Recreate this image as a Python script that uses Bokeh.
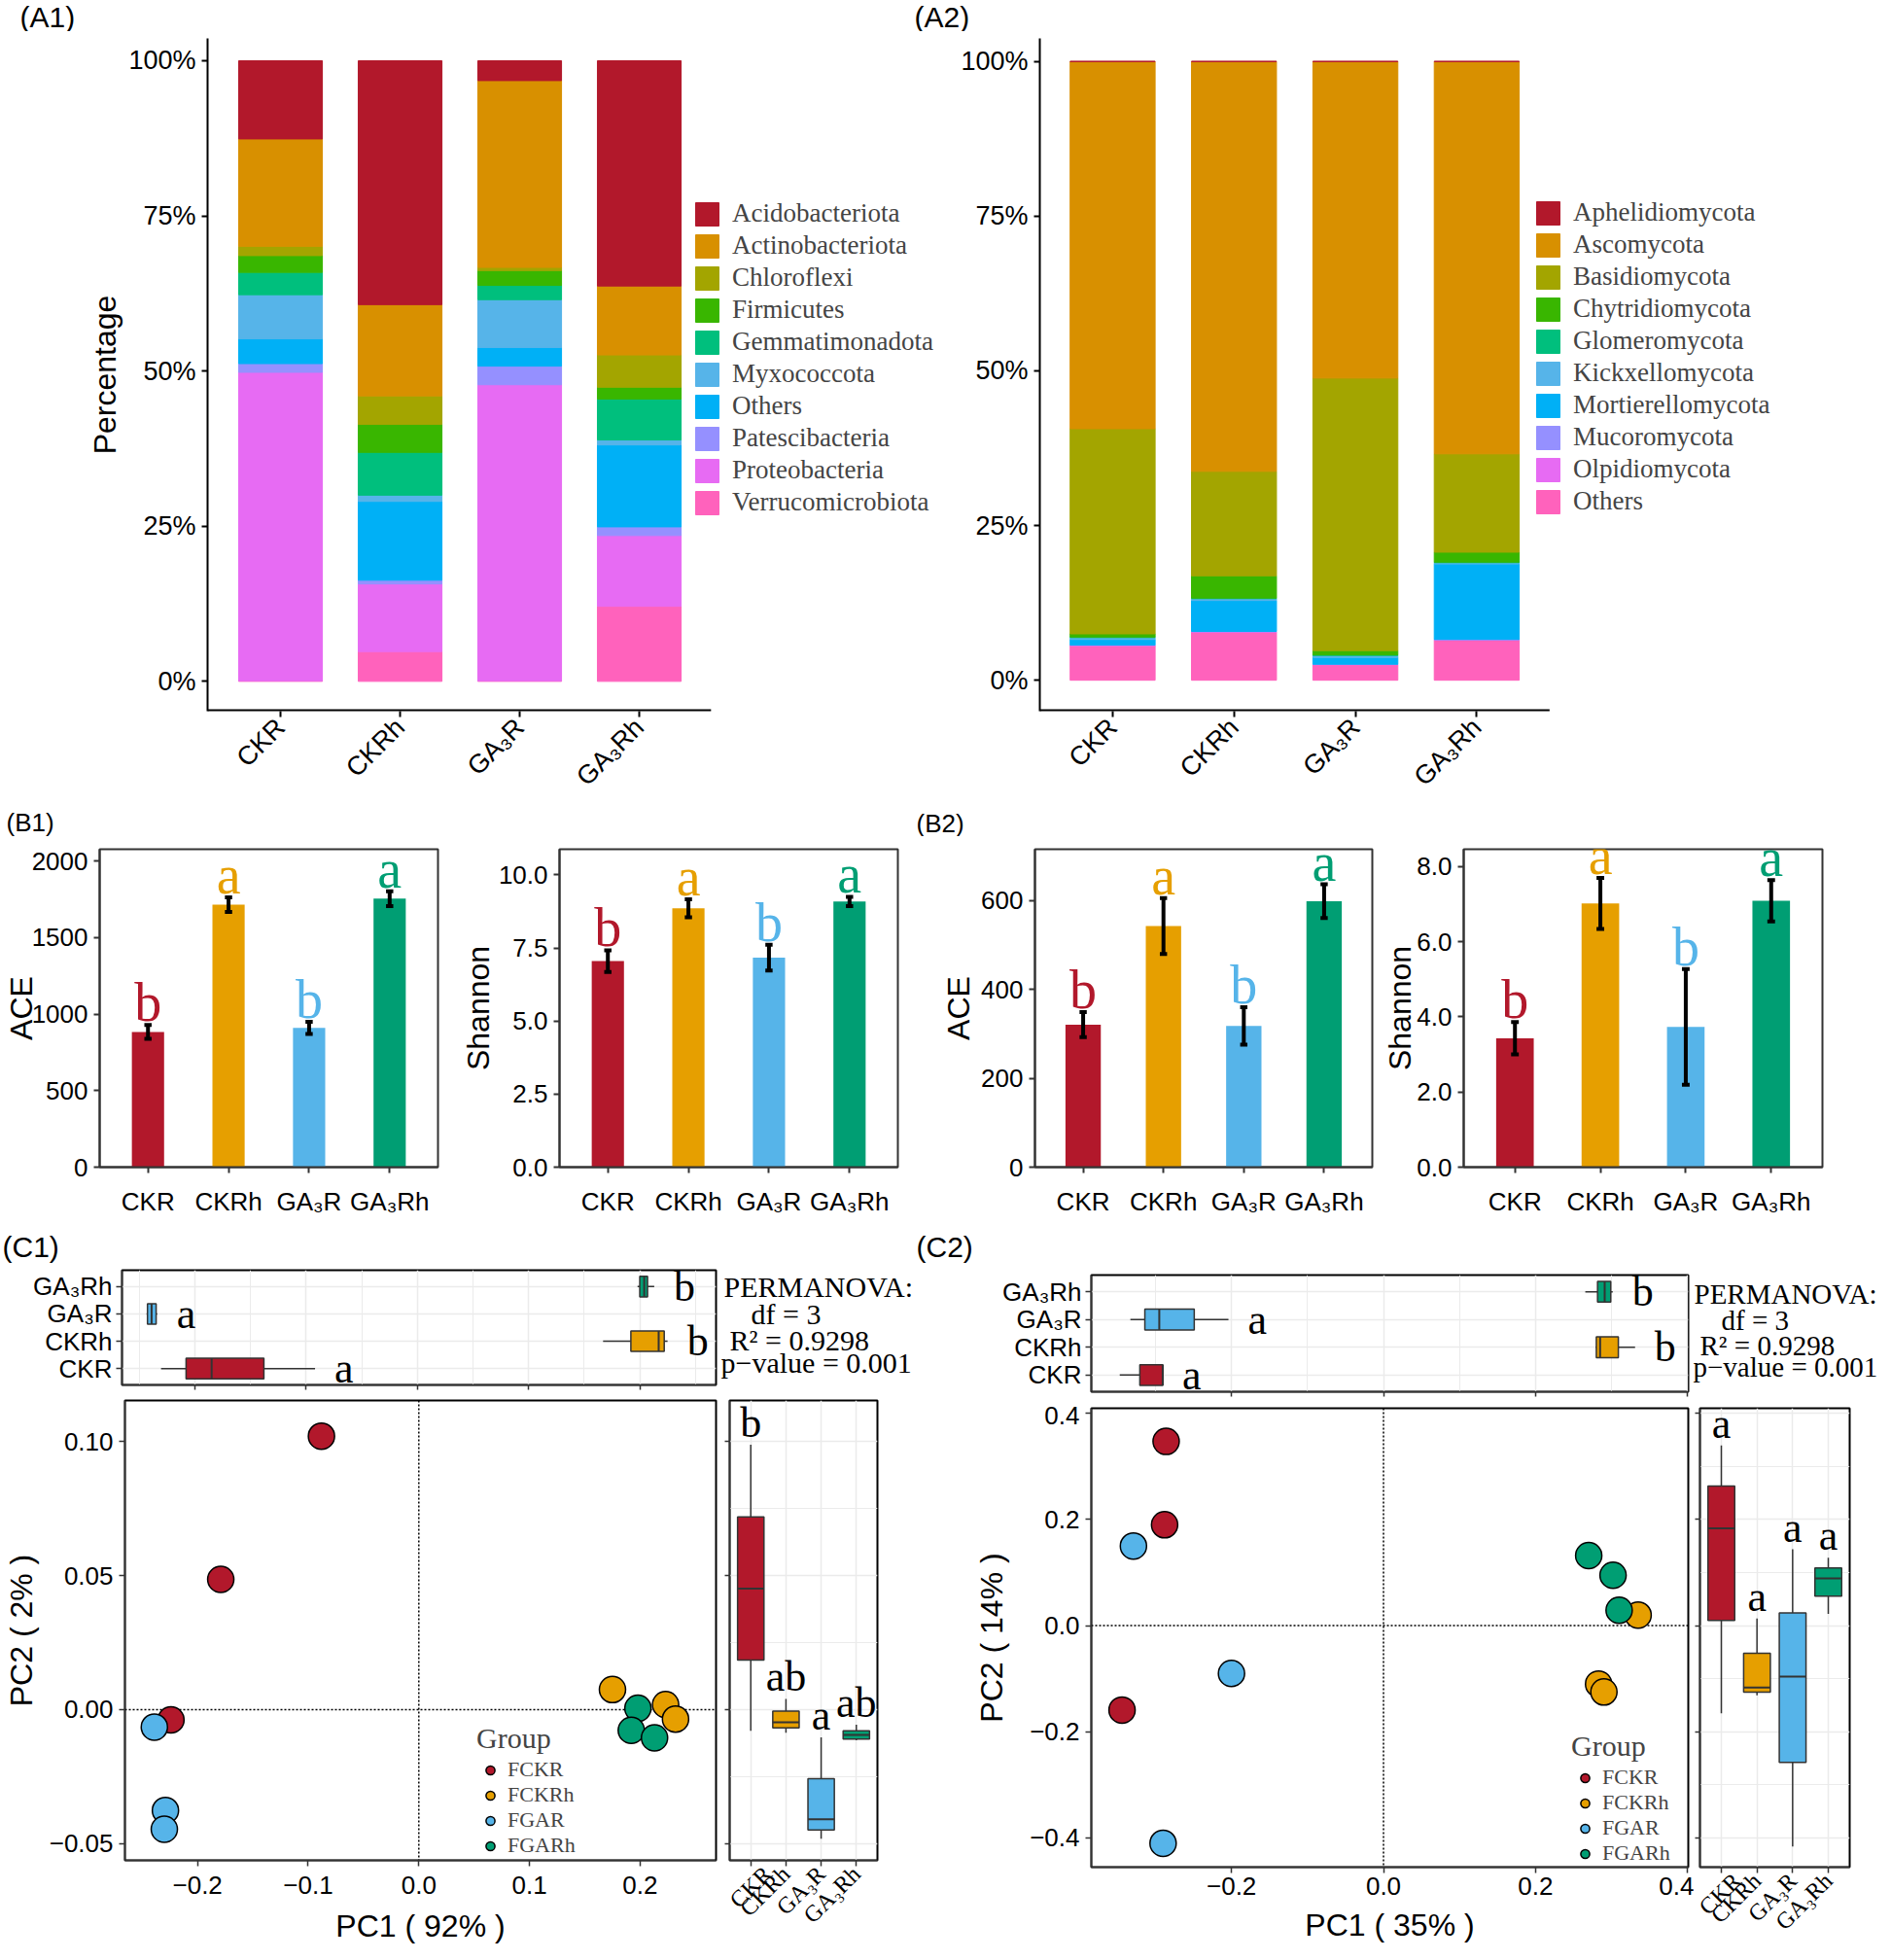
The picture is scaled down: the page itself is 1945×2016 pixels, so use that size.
import math
from bokeh.plotting import figure
from bokeh.models import (Range1d, FixedTicker, Legend, LegendItem, Label, Span,
                          ColumnDataSource)
from bokeh.layouts import row, column
from bokeh.embed import file_html
from bokeh.resources import INLINE
from bokeh.core.properties import value

SANS = "Liberation Sans"
SERIF = "Liberation Serif"

# ------------------------------------------------------------------ data
groups = ["CKR", "CKRh", "GA₃R", "GA₃Rh"]
group_colors = ["#B2182B", "#E69F00", "#56B4E9", "#009E73"]

# (A1) bacterial phyla, relative abundance (%) - legend order
bact_phyla = ["Acidobacteriota", "Actinobacteriota", "Chloroflexi", "Firmicutes",
              "Gemmatimonadota", "Myxococcota", "Others", "Patescibacteria",
              "Proteobacteria", "Verrucomicrobiota"]
bact_ckr = [12.6, 17.3, 1.5, 2.7, 3.6, 7.1, 4.0, 1.4, 49.7, 0.1]
bact_ckrh = [39.3, 14.7, 4.6, 4.5, 6.9, 1.0, 12.7, 0.6, 10.9, 4.8]
bact_ga3r = [3.2, 30.1, 0.5, 2.4, 2.3, 7.7, 3.0, 3.0, 47.7, 0.1]
bact_ga3rh = [36.3, 11.1, 5.2, 1.9, 6.6, 0.8, 13.2, 1.4, 11.4, 12.1]

# (A2) fungal phyla, relative abundance (%) - legend order
fungi_phyla = ["Aphelidiomycota", "Ascomycota", "Basidiomycota", "Chytridiomycota",
               "Glomeromycota", "Kickxellomycota", "Mortierellomycota",
               "Mucoromycota", "Olpidiomycota", "Others"]
fungi_ckr = [0.05, 59.4, 33.2, 0.5, 0.1, 0.3, 0.9, 0.05, 0.05, 5.6]
fungi_ckrh = [0.05, 66.3, 16.9, 3.6, 0.1, 0.3, 5.0, 0.05, 0.05, 7.8]
fungi_ga3r = [0.05, 51.2, 44.1, 0.7, 0.1, 0.3, 1.1, 0.05, 0.05, 2.5]
fungi_ga3rh = [0.05, 63.4, 15.9, 1.6, 0.1, 0.2, 12.2, 0.05, 0.05, 6.5]

phylum_colors = ["#B2182B", "#D89000", "#A3A500", "#39B600", "#00BF7D",
                 "#56B4E9", "#00B0F6", "#9590FF", "#E76BF3", "#FF62BC"]
pct_ticks = [0, 25, 50, 75, 100]
pct_labels = ["0%", "25%", "50%", "75%", "100%"]

# (B) alpha diversity
ace_bact_mean = [884, 1716, 910, 1755]
ace_bact_sd = [45, 48, 40, 48]
shannon_bact_mean = [7.05, 8.86, 7.17, 9.09]
shannon_bact_sd = [0.37, 0.31, 0.44, 0.16]
ace_fungi_mean = [321, 543, 318, 599]
ace_fungi_sd = [28, 63, 42, 38]
shannon_fungi_mean = [3.43, 7.02, 3.73, 7.09]
shannon_fungi_sd = [0.43, 0.68, 1.54, 0.55]
alpha_letters = ["b", "a", "b", "a"]
ace_bact_ticks = [0, 500, 1000, 1500, 2000]
shannon_bact_ticks = [0.0, 2.5, 5.0, 7.5, 10.0]
ace_fungi_ticks = [0, 200, 400, 600]
shannon_fungi_ticks = [0.0, 2.0, 4.0, 6.0, 8.0]

# (C) PCoA
pcoa_groups = ["FCKR", "FCKRh", "FGAR", "FGARh"]
c1_fckr_pc1 = [-0.088, -0.179, -0.224]
c1_fckr_pc2 = [0.102, 0.0486, -0.0038]
c1_fckrh_pc1 = [0.175, 0.223, 0.232]
c1_fckrh_pc2 = [0.0075, 0.0019, -0.0035]
c1_fgar_pc1 = [-0.239, -0.229, -0.230]
c1_fgar_pc2 = [-0.0065, -0.0376, -0.0446]
c1_fgarh_pc1 = [0.198, 0.192, 0.213]
c1_fgarh_pc2 = [0.0005, -0.0077, -0.0105]

c2_fckr_pc1 = [-0.286, -0.288, -0.344]
c2_fckr_pc2 = [0.347, 0.190, -0.159]
c2_fckrh_pc1 = [0.335, 0.283, 0.290]
c2_fckrh_pc2 = [0.020, -0.110, -0.125]
c2_fgar_pc1 = [-0.329, -0.200, -0.290]
c2_fgar_pc2 = [0.150, -0.090, -0.410]
c2_fgarh_pc1 = [0.270, 0.302, 0.310]
c2_fgarh_pc2 = [0.132, 0.095, 0.029]

# box statistics (CKR, CKRh, GA3R, GA3Rh)
c1_pc1_q1 = [-0.208, 0.192, -0.2427, 0.200]
c1_pc1_med = [-0.185, 0.217, -0.239, 0.204]
c1_pc1_q3 = [-0.138, 0.222, -0.2349, 0.207]
c1_pc1_lo = [-0.2305, 0.167, -0.2435, 0.198]
c1_pc1_hi = [-0.092, 0.225, -0.234, 0.213]
c1_pc1_letters = ["a", "b", "a", "b"]
c1_pc2_q1 = [0.0185, -0.0068, -0.0449, -0.0110]
c1_pc2_med = [0.0451, -0.0047, -0.0409, -0.0094]
c1_pc2_q3 = [0.0719, -0.0005, -0.0257, -0.0079]
c1_pc2_lo = [-0.0079, -0.0086, -0.0481, -0.0114]
c1_pc2_hi = [0.0988, 0.0040, -0.0103, -0.0056]
c1_pc2_letters = ["b", "ab", "a", "ab"]

c2_pc1_q1 = [-0.3206, 0.280, -0.314, 0.2816]
c2_pc1_med = [-0.2905, 0.285, -0.295, 0.291]
c2_pc1_q3 = [-0.2903, 0.309, -0.249, 0.299]
c2_pc1_lo = [-0.347, 0.279, -0.333, 0.2655]
c2_pc1_hi = [-0.2903, 0.331, -0.204, 0.3016]
c2_pc1_letters = ["a", "b", "a", "b"]
c2_pc2_q1 = [0.0097, -0.1252, -0.2575, 0.0556]
c2_pc2_med = [0.1835, -0.1164, -0.0961, 0.0891]
c2_pc2_q3 = [0.2628, -0.052, 0.0238, 0.1085]
c2_pc2_lo = [-0.165, -0.1314, -0.4163, 0.0221]
c2_pc2_hi = [0.3396, 0.0132, 0.1438, 0.1279]
c2_pc2_letters = ["a", "a", "a", "a"]

c1_pc1_ticks = [-0.2, -0.1, 0.0, 0.1, 0.2]
c1_pc1_minor = [-0.25, -0.15, -0.05, 0.05, 0.15, 0.25]
c1_pc2_ticks = [-0.05, 0.0, 0.05, 0.10]
c1_pc2_minor = [-0.025, 0.025, 0.075]
c2_pc1_ticks = [-0.2, 0.0, 0.2, 0.4]
c2_pc1_minor = [-0.3, -0.1, 0.1, 0.3]
c2_pc2_ticks = [-0.4, -0.2, 0.0, 0.2, 0.4]
c2_pc2_minor = [-0.3, -0.1, 0.1, 0.3]

permanova_lines = ["PERMANOVA:", "df = 3", "R² = 0.9298", "p−value = 0.001"]
panel_tags = ["(A1)", "(A2)", "(B1)", "(B2)", "(C1)", "(C2)"]

# ------------------------------------------------------------------ helpers
GEO = {}
XS = [1, 2, 3, 4]
W = 1937


def make_fig(box, frame, xr, yr, **kw):
    x0, y0, x1, y1 = box
    fl, ft, fr, fb = frame
    p = figure(width=x1 - x0, height=y1 - y0, x_range=xr, y_range=yr,
               output_backend="svg", toolbar_location=None,
               min_border_left=fl - x0, min_border_right=x1 - fr,
               min_border_top=ft - y0, min_border_bottom=y1 - fb, **kw)
    p.title.visible = False
    p.title.standoff = 0
    for g in p.grid:
        g.visible = False
    p.outline_line_color = None
    p.background_fill_color = "white"
    p.border_fill_color = "white"
    GEO[p.id] = (frame, xr, yr)
    return p


def put_label(p, px, py, text, size, font=SANS, align="left", baseline="top"):
    (fl, ft, fr, fb), xr, yr = GEO[p.id]
    x = xr.start + (px - fl) / (fr - fl) * (xr.end - xr.start)
    y = yr.start + (fb - py) / (fb - ft) * (yr.end - yr.start)
    p.add_layout(Label(x=x, y=y, text=text, text_font=font, text_font_size=size,
                       text_align=align, text_baseline=baseline, text_color="black"))


def text_strip(box, items, baseline="top"):
    p = make_fig(box, box, Range1d(0, 1), Range1d(0, 1),
                 x_axis_location=None, y_axis_location=None)
    for text, px, py, size, font in items:
        put_label(p, px, py, text, size, font=font, baseline=baseline)
    return p


def style_axes(p, color="black", lw=2, size="26px"):
    for ax in p.axis:
        ax.major_label_text_font = SANS
        ax.major_label_text_font_size = size
        ax.major_label_text_color = "black"
        ax.axis_line_color = color
        ax.axis_line_width = lw
        ax.major_tick_line_color = color
        ax.major_tick_line_width = lw
        ax.major_tick_out = 6
        ax.major_tick_in = 0
        ax.minor_tick_line_color = None
        ax.minor_tick_out = 0
        ax.minor_tick_in = 0
        ax.major_label_standoff = 6
        ax.axis_label_text_font = SANS
        ax.axis_label_text_font_style = "normal"
        ax.axis_label_text_font_size = "32px"
        ax.axis_label_text_color = "black"


def set_ticks(ax, ticks, labels):
    ax.ticker = FixedTicker(ticks=list(ticks))
    ax.major_label_overrides = {t: l for t, l in zip(ticks, labels)}


def hide_labels(ax):
    ax.major_label_text_color = None
    ax.major_label_text_font_size = "1px"
    ax.major_label_standoff = 0
    ax.major_tick_out = 5


# ------------------------------------------------------------------ A panels
def stacked_panel(box, frame, xr, yr, phyla, cols, legend_xy, ylabel):
    p = make_fig(box, frame, xr, yr)
    data = {"x": XS}
    totals = [sum(c) for c in cols]
    for i, ph in enumerate(phyla):
        data[ph] = [c[i] / t * 100 for c, t in zip(cols, totals)]
    src = ColumnDataSource(data)
    order = list(reversed(phyla))
    colors = list(reversed(phylum_colors))
    rends = p.vbar_stack(order, x="x", width=0.7, color=colors, source=src)
    rmap = dict(zip(order, rends))
    # x axis line only under the category region (legend sits to its right)
    p.segment(x0=[xr.start], y0=[yr.start], x1=[4.6], y1=[yr.start],
              line_color="black", line_width=4)
    items = [LegendItem(label=ph, renderers=[rmap[ph]]) for ph in phyla]
    leg = Legend(items=items, location=legend_xy, glyph_width=30, glyph_height=30,
                 label_height=30, spacing=2, padding=0, margin=0,
                 border_line_color=None, background_fill_alpha=0,
                 label_text_font=SERIF, label_text_font_size="27px",
                 label_standoff=11)
    p.add_layout(leg)
    style_axes(p, size="27px")
    p.xaxis.axis_line_color = None
    set_ticks(p.xaxis[0], XS, groups)
    set_ticks(p.yaxis[0], pct_ticks, pct_labels)
    p.xaxis.major_label_orientation = math.pi / 4
    if ylabel:
        p.yaxis.axis_label = ylabel
        p.yaxis.axis_label_standoff = 3
    return p


strip_a = text_strip((0, 0, W, 32), [(panel_tags[0], 20, 0, "30px", SANS),
                                     (panel_tags[1], 940, 0, "30px", SANS)])
a1 = stacked_panel((0, 32, 985, 830), (213, 32, 966, 731),
                   Range1d(0.39, 6.512), Range1d(-4.8, 103.6),
                   bact_phyla, [bact_ckr, bact_ckrh, bact_ga3r, bact_ga3rh],
                   (499, 199), "Percentage")
a2 = stacked_panel((985, 32, W, 830), (1068, 39, 1830, 740),
                   Range1d(0.40, 6.496), Range1d(-5.0, 103.7),
                   fungi_phyla, [fungi_ckr, fungi_ckrh, fungi_ga3r, fungi_ga3rh],
                   (508, 200), None)


# ------------------------------------------------------------------ B panels
def bar_panel(box, frame, ymax, means, sds, ticks, fmt, ylabel, standoff, bar_w):
    p = make_fig(box, frame, Range1d(0.4, 4.6), Range1d(0, ymax))
    p.vbar(x=XS, top=means, width=bar_w, fill_color=group_colors, line_color=None)
    lo = [m - s for m, s in zip(means, sds)]
    hi = [m + s for m, s in zip(means, sds)]
    cap = 0.045
    p.segment(x0=XS, y0=lo, x1=XS, y1=hi, line_color="black", line_width=4)
    for yy in (lo, hi):
        p.segment(x0=[x - cap for x in XS], y0=yy, x1=[x + cap for x in XS], y1=yy,
                  line_color="black", line_width=4)
    p.text(x=XS, y=hi, text=alpha_letters, text_color=group_colors,
           text_font=value(SERIF), text_font_size=value("56px"),
           text_align="center", text_baseline="bottom", y_offset=8)
    p.outline_line_color = "#333333"
    p.outline_line_width = 2
    style_axes(p, color="#333333")
    set_ticks(p.xaxis[0], XS, groups)
    set_ticks(p.yaxis[0], ticks, [fmt.format(t) for t in ticks])
    p.xaxis.major_label_standoff = 14
    p.yaxis.axis_label = ylabel
    p.yaxis.axis_label_standoff = standoff
    return p


strip_b = text_strip((0, 830, W, 860), [(panel_tags[2], 6, 845, "26px", SANS),
                                        (panel_tags[3], 942, 846, "26px", SANS)],
                     baseline="middle")
b1a = bar_panel((0, 860, 470, 1262), (98, 861, 450, 1205), 2078, ace_bact_mean,
                ace_bact_sd, ace_bact_ticks, "{:.0f}", "ACE", -10, 0.4)
b1b = bar_panel((470, 860, 940, 1262), (569, 861, 923, 1208), 10.88,
                shannon_bact_mean, shannon_bact_sd, shannon_bact_ticks, "{:.1f}",
                "Shannon", 0, 0.4)
b2a = bar_panel((940, 860, 1415, 1262), (1064, 873, 1411, 1206), 716,
                ace_fungi_mean, ace_fungi_sd, ace_fungi_ticks, "{:.0f}", "ACE", 2,
                0.44)
b2b = bar_panel((1415, 860, W, 1262), (1505, 868, 1874, 1200), 8.46,
                shannon_fungi_mean, shannon_fungi_sd, shannon_fungi_ticks, "{:.1f}",
                "Shannon", -4, 0.44)


# ------------------------------------------------------------------ C panels
def fmt_num(t, nd):
    return f"{t:.{nd}f}".replace("-", "−")


def grid_style(g):
    g.grid_line_color = "#EBEBEB"
    g.grid_line_width = 1.5
    g.minor_grid_line_color = "#EBEBEB"
    g.minor_grid_line_width = 1.0


def top_box(box, frame, xr, q1, med, q3, lo, hi, letters, ticks, minor):
    p = make_fig(box, frame, xr, Range1d(0.4, 4.6))
    p.xgrid.visible = True
    p.xgrid.ticker = FixedTicker(ticks=ticks, minor_ticks=minor)
    p.ygrid.visible = True
    p.ygrid.ticker = FixedTicker(ticks=XS)
    grid_style(p.xgrid[0])
    grid_style(p.ygrid[0])
    p.segment(x0=lo, y0=XS, x1=q1, y1=XS, line_color="#333333", line_width=1.5)
    p.segment(x0=q3, y0=XS, x1=hi, y1=XS, line_color="#333333", line_width=1.5)
    p.hbar(y=XS, left=q1, right=q3, height=0.75, fill_color=group_colors,
           line_color="#333333", line_width=1.5)
    p.segment(x0=med, y0=[y - 0.375 for y in XS], x1=med, y1=[y + 0.375 for y in XS],
              line_color="#333333", line_width=2)
    p.text(x=hi, y=XS, text=letters, x_offset=20, text_align="left",
           text_baseline="middle", text_font=value(SERIF),
           text_font_size=value("44px"), text_color="black")
    p.outline_line_color = "black"
    p.outline_line_width = 2
    style_axes(p, color="#333333", lw=1.5)
    p.xaxis.ticker = FixedTicker(ticks=ticks)
    hide_labels(p.xaxis[0])
    set_ticks(p.yaxis[0], XS, groups)
    p.yaxis.major_label_standoff = 4
    return p


def right_box(box, frame, yr, q1, med, q3, lo, hi, letters, ticks, minor):
    p = make_fig(box, frame, Range1d(0.4, 4.6), yr)
    p.ygrid.visible = True
    p.ygrid.ticker = FixedTicker(ticks=ticks, minor_ticks=minor)
    p.xgrid.visible = True
    p.xgrid.ticker = FixedTicker(ticks=XS)
    grid_style(p.xgrid[0])
    grid_style(p.ygrid[0])
    p.segment(x0=XS, y0=lo, x1=XS, y1=q1, line_color="#333333", line_width=1.5)
    p.segment(x0=XS, y0=q3, x1=XS, y1=hi, line_color="#333333", line_width=1.5)
    p.vbar(x=XS, bottom=q1, top=q3, width=0.75, fill_color=group_colors,
           line_color="#333333", line_width=1.5)
    p.segment(x0=[x - 0.375 for x in XS], y0=med, x1=[x + 0.375 for x in XS], y1=med,
              line_color="#333333", line_width=2)
    p.text(x=XS, y=hi, text=letters, y_offset=2, text_align="center",
           text_baseline="bottom", text_font=value(SERIF),
           text_font_size=value("44px"), text_color="black")
    p.outline_line_color = "black"
    p.outline_line_width = 2
    style_axes(p, color="#333333", lw=1.5)
    p.yaxis.ticker = FixedTicker(ticks=ticks)
    hide_labels(p.yaxis[0])
    set_ticks(p.xaxis[0], XS, groups)
    p.xaxis.major_label_text_font = SERIF
    p.xaxis.major_label_text_font_size = "24px"
    p.xaxis.major_label_orientation = math.pi / 4
    p.xaxis.major_label_standoff = 4
    return p


def scatter_panel(box, frame, xr, yr, xs, ys, xticks, xnd, yticks, ynd,
                  xlabel, ylabel, ystand, xl_stand, xa_stand, legend_xy):
    p = make_fig(box, frame, xr, yr)
    p.add_layout(Span(location=0, dimension="height", line_color="black",
                      line_width=1.5, line_dash="2 2", level="underlay"))
    p.add_layout(Span(location=0, dimension="width", line_color="black",
                      line_width=1.5, line_dash="2 2", level="underlay"))
    items = []
    for name, gx, gy, col in zip(pcoa_groups, xs, ys, group_colors):
        r = p.scatter(x=gx, y=gy, size=27, fill_color=col, line_color="black",
                      line_width=1.5)
        items.append(LegendItem(label=name, renderers=[r]))
    leg = Legend(items=items, location=legend_xy, title="Group",
                 title_text_font=SERIF, title_text_font_size="30px",
                 title_text_font_style="normal", title_standoff=2,
                 glyph_width=28, glyph_height=23, label_height=23, spacing=0,
                 padding=0, margin=0, border_line_color=None,
                 background_fill_alpha=0, label_text_font=SERIF,
                 label_text_font_size="22px", label_standoff=4)
    p.add_layout(leg)
    p.outline_line_color = "black"
    p.outline_line_width = 2
    style_axes(p, color="#333333", lw=1.5)
    set_ticks(p.xaxis[0], xticks, [fmt_num(t, xnd) for t in xticks])
    set_ticks(p.yaxis[0], yticks, [fmt_num(t, ynd) for t in yticks])
    p.xaxis.major_label_standoff = xl_stand
    p.xaxis.axis_label = xlabel
    p.xaxis.axis_label_standoff = xa_stand
    p.yaxis.axis_label = ylabel
    p.yaxis.axis_label_standoff = ystand
    return p


strip_c = text_strip((0, 1262, W, 1300), [(panel_tags[4], 2, 1265, "30px", SANS),
                                          (panel_tags[5], 942, 1265, "30px", SANS)])

# C1
c1_xr = Range1d(-0.2656, 0.2686)
c1_yr = Range1d(-0.0562, 0.1153)
c1_top = top_box((0, 1300, 740, 1438), (125, 1306, 736, 1424), c1_xr,
                 c1_pc1_q1, c1_pc1_med, c1_pc1_q3, c1_pc1_lo, c1_pc1_hi,
                 c1_pc1_letters, c1_pc1_ticks, c1_pc1_minor)
c1_perm = text_strip((740, 1300, 952, 1438),
                     [(permanova_lines[0], 744, 1320, "30px", SERIF),
                      (permanova_lines[1], 772, 1353, "30px", SERIF),
                      (permanova_lines[2], 750, 1384, "30px", SERIF),
                      (permanova_lines[3], 741, 1411, "30px", SERIF)],
                     baseline="middle")
c1_sc = scatter_panel((0, 1438, 745, 2008), (125, 1440, 736, 1913), c1_xr, c1_yr,
                      [c1_fckr_pc1, c1_fckrh_pc1, c1_fgar_pc1, c1_fgarh_pc1],
                      [c1_fckr_pc2, c1_fckrh_pc2, c1_fgar_pc2, c1_fgarh_pc2],
                      c1_pc1_ticks, 1, c1_pc2_ticks, 2,
                      "PC1 ( 92% )", "PC2 ( 2% )", 8, 10, 12, (362, 2))
c1_rt = right_box((745, 1438, 952, 2008), (750, 1440, 902, 1913), c1_yr,
                  c1_pc2_q1, c1_pc2_med, c1_pc2_q3, c1_pc2_lo, c1_pc2_hi,
                  c1_pc2_letters, c1_pc2_ticks, c1_pc2_minor)

# C2
c2_xr = Range1d(-0.3844, 0.4010)
c2_yr = Range1d(-0.455, 0.4095)
c2_top = top_box((952, 1300, 1740, 1446), (1122, 1311, 1736, 1431), c2_xr,
                 c2_pc1_q1, c2_pc1_med, c2_pc1_q3, c2_pc1_lo, c2_pc1_hi,
                 c2_pc1_letters, c2_pc1_ticks, c2_pc1_minor)
c2_perm = text_strip((1740, 1300, W, 1446),
                     [(permanova_lines[0], 1742, 1324, "29px", SERIF),
                      (permanova_lines[1], 1770, 1357, "29px", SERIF),
                      (permanova_lines[2], 1748, 1388, "29px", SERIF),
                      (permanova_lines[3], 1741, 1415, "29px", SERIF)],
                     baseline="middle")
c2_sc = scatter_panel((952, 1446, 1742, 2008), (1122, 1448, 1736, 1920), c2_xr, c2_yr,
                      [c2_fckr_pc1, c2_fckrh_pc1, c2_fgar_pc1, c2_fgarh_pc1],
                      [c2_fckr_pc2, c2_fckrh_pc2, c2_fgar_pc2, c2_fgarh_pc2],
                      c2_pc1_ticks, 1, c2_pc2_ticks, 1,
                      "PC1 ( 35% )", "PC2 ( 14% )", 18, 4, 10, (494, 1))
c2_rt = right_box((1742, 1446, W, 2008), (1748, 1448, 1902, 1920), c2_yr,
                  c2_pc2_q1, c2_pc2_med, c2_pc2_q3, c2_pc2_lo, c2_pc2_hi,
                  c2_pc2_letters, c2_pc2_ticks, c2_pc2_minor)

layout = column(
    strip_a,
    row(a1, a2),
    strip_b,
    row(b1a, b1b, b2a, b2b),
    strip_c,
    row(column(row(c1_top, c1_perm), row(c1_sc, c1_rt)),
        column(row(c2_top, c2_perm), row(c2_sc, c2_rt))),
)

open("out.html", "w").write(file_html(layout, INLINE))
